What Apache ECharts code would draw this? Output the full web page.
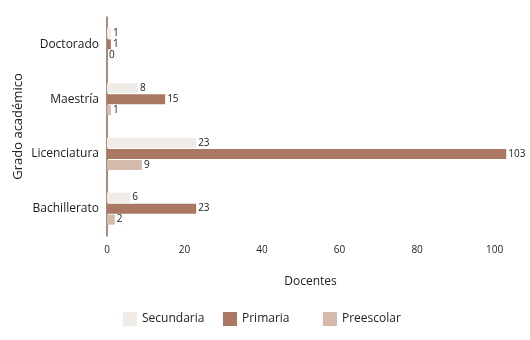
<!DOCTYPE html>
<html>
<head>
<meta charset="utf-8">
<script src="https://cdn.jsdelivr.net/npm/echarts@6/dist/echarts.min.js"></script>
<style>
  html, body { margin: 0; padding: 0; background: #fff; }
  #chart { width: 530px; height: 340px; }
</style>
</head>
<body>
<div id="chart"></div>
<script>
const categories = ['Bachillerato', 'Licenciatura', 'Maestría', 'Doctorado'];
const secundaria = [6, 23, 8, 1];
const primaria = [23, 103, 15, 1];
const preescolar = [2, 9, 1, 0];
const xTicks = [0, 20, 40, 60, 80, 100];

const colors = { Secundaria: '#f0ebe7', Primaria: '#a97762', Preescolar: '#d5b9ab' };
const font = '"Open Sans", "Noto Sans", sans-serif';

const chart = echarts.init(document.getElementById('chart'));

function legendFor(name, left) {
  return {
    data: [name],
    left: left,
    top: 307,
    itemWidth: 14,
    itemHeight: 14,
    icon: 'rect',
    textStyle: { fontFamily: font, fontSize: 12, color: '#222' }
  };
}

function bar(name, values) {
  return {
    name: name,
    type: 'bar',
    data: values,
    barWidth: 10,
    barGap: '10%',
    itemStyle: { color: colors[name] },
    label: {
      show: true,
      position: 'right',
      distance: 2,
      fontFamily: font,
      fontSize: 10,
      color: '#1a1a1a'
    }
  };
}

chart.setOption({
  animation: false,
  textStyle: { fontFamily: font },
  legend: [
    legendFor('Secundaria', 118),
    legendFor('Primaria', 218),
    legendFor('Preescolar', 318)
  ],
  grid: { left: 107, top: 17, width: 407, height: 219, outerBoundsMode: 'none', containLabel: false },
  xAxis: {
    type: 'value',
    min: 0,
    max: 105,
    interval: 20,
    name: 'Docentes',
    nameLocation: 'middle',
    nameGap: 40,
    nameMoveOverlap: false,
    nameTextStyle: { fontSize: 12, color: '#222' },
    axisLine: { show: false },
    axisTick: { show: false },
    splitLine: { show: false },
    axisLabel: {
      margin: 9,
      fontSize: 10,
      color: '#222',
      showMaxLabel: false,
      formatter: v => (xTicks.includes(v) ? String(v) : '')
    }
  },
  yAxis: {
    type: 'category',
    data: categories,
    name: 'Grado académico',
    nameLocation: 'middle',
    nameGap: 82,
    nameMoveOverlap: false,
    nameTextStyle: { fontSize: 13, color: '#222' },
    axisLine: { show: true, lineStyle: { color: '#8c6656', width: 1.5 } },
    axisTick: { show: false },
    axisLabel: { margin: 8, fontSize: 12, color: '#1a1a1a' }
  },
  series: [
    bar('Secundaria', secundaria),
    bar('Primaria', primaria),
    bar('Preescolar', preescolar)
  ]
});
</script>
</body>
</html>
